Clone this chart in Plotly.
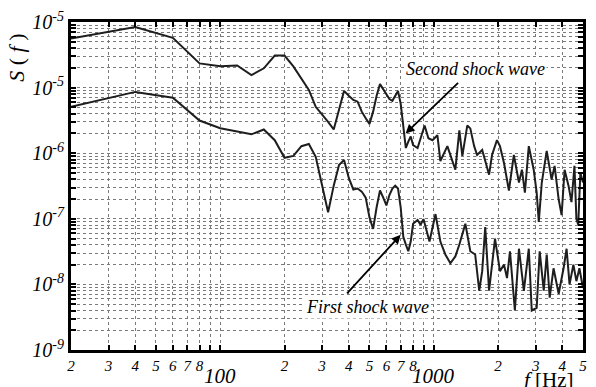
import math
import plotly.graph_objects as go

# ---- data (f in Hz, S(f)) ----
upper_f = [20, 40, 60, 80, 100, 120, 140, 160, 180, 200, 220, 240, 260, 280, 300, 320, 340, 360, 380, 400,
           420, 440, 460, 480, 500, 520, 540, 560, 580, 600, 620, 640, 660, 680, 700, 720, 740, 760, 780, 800,
           840, 906, 944, 986, 1040, 1074, 1158, 1262, 1318, 1361, 1436, 1483, 1546, 1596, 1686, 1816, 1875, 1977,
           2042, 2133, 2249, 2372, 2506, 2588, 2672, 2787, 2938, 3034, 3104, 3206, 3381, 3565, 3681, 3846, 3970,
           4100, 4276, 4416, 4560, 4656, 4750, 4860, 5000]
upper_S = [5.6e-5, 8.4e-5, 5.75e-5, 2.34e-5, 2.11e-5, 2.18e-5, 1.55e-5, 1.97e-5, 3.08e-5, 3.08e-5,
           2.11e-5, 1.39e-5, 9.2e-6, 5.1e-6, 3.9e-6, 3.0e-6, 2.3e-6, 4.8e-6, 8.9e-6, 7.5e-6,
           6.5e-6, 6.1e-6, 4.3e-6, 3.4e-6, 2.8e-6, 4.3e-6, 7.5e-6, 1.13e-5, 9.5e-6, 8.0e-6,
           6.7e-6, 6.3e-6, 7.5e-6, 8.9e-6, 5.7e-6, 2.65e-6, 1.2e-6, 1.5e-6, 1.8e-6, 1.33e-6,
           1.2e-6, 2.65e-6, 1.69e-6, 1.58e-6, 1.88e-6, 7.6e-7, 1.28e-6, 5.6e-7, 2.23e-6, 9.1e-7,
           2.65e-6, 2.39e-6, 1.28e-6, 9.4e-7, 1.12e-6, 4.7e-7, 9.4e-7, 1.58e-6, 1.28e-6, 7.1e-7,
           2.7e-7, 9.4e-7, 3.57e-7, 5.6e-7, 2.5e-7, 1.28e-6, 5.6e-7, 2.5e-7, 8.95e-8, 3.57e-7,
           1.08e-6, 3.96e-7, 6.4e-7, 1.98e-7, 1.14e-7, 5.6e-7, 3.2e-7, 1.8e-7, 6.4e-7, 9.9e-8,
           8.1e-8, 5.05e-7, 3.57e-7]

lower_f = [20, 40, 60, 80, 100, 120, 140, 160, 180, 200, 220, 240, 260, 280, 300, 320, 340, 360, 380, 400,
           420, 440, 460, 480, 500, 520, 540, 560, 580, 600, 620, 640, 660, 680, 700, 720, 740, 760, 780, 800,
           840, 867, 895, 955, 1019, 1074, 1133, 1196, 1262, 1318, 1406, 1483, 1563, 1633, 1686, 1742, 1816,
           1936, 2042, 2133, 2203, 2275, 2398, 2506, 2642, 2787, 2877, 3034, 3134, 3274, 3381, 3491, 3639,
           3846, 4055, 4188, 4325, 4508, 4656, 4810, 5000]
lower_S = [5.1e-6, 8.6e-6, 7.0e-6, 3.15e-6, 2.4e-6, 2.15e-6, 1.94e-6, 2.3e-6, 1.58e-6, 8.5e-7,
           9.1e-7, 1.28e-6, 1.38e-6, 8.8e-7, 3.3e-7, 1.26e-7, 3.2e-7, 6.6e-7, 7.9e-7, 4.2e-7,
           2.8e-7, 2.9e-7, 2.6e-7, 2.1e-7, 1.05e-7, 7.0e-8, 1.5e-7, 2.7e-7, 2.1e-7, 1.6e-7,
           2.3e-7, 2.9e-7, 3.2e-7, 2.9e-7, 1.5e-7, 5.3e-8, 4.05e-8, 3.2e-8, 4.5e-8, 8.4e-8,
           9.6e-8, 8.1e-8, 9.9e-8, 4.5e-8, 1.18e-7, 4.5e-8, 2.86e-8, 2.1e-8, 2.67e-8, 4.05e-8,
           8.4e-8, 3.2e-8, 2.86e-8, 8.0e-9, 1.59e-8, 7.5e-8, 8.0e-9, 5.0e-8, 1.59e-8, 2.0e-8,
           1.25e-8, 3.2e-8, 4.0e-9, 3.5e-8, 8.0e-9, 3.5e-8, 4.0e-9, 4.4e-9, 3.2e-8, 8.0e-9,
           2.86e-8, 6.3e-9, 1.76e-8, 7.2e-9, 1.76e-8, 3.5e-8, 1.0e-8, 2.0e-8, 1.12e-8, 1.76e-8,
           8.8e-9]

# tick labels
x_tickvals = [20, 30, 40, 50, 60, 70, 80, 90, 100, 200, 300, 400, 500, 600, 700, 800, 900, 1000,
              2000, 3000, 4000, 5000]
x_ticktext = ["2", "3", "4", "5", "6", "7", "8", "", "", "2", "3", "4", "5", "6", "7", "8", "", "",
              "2", "3", "4", "5"]
x_decade_vals = [100, 1000]
x_decade_text = ["100", "1000"]

y_decades = [1e-9, 1e-8, 1e-7, 1e-6, 1e-5, 1e-4]
y_decade_text = ["10<sup>-9</sup>", "10<sup>-8</sup>", "10<sup>-7</sup>", "10<sup>-6</sup>",
                 "10<sup>-5</sup>", "10<sup>-5</sup>"]

y_tickvals = []
y_ticktext = []
for i, d in enumerate(y_decades):
    y_tickvals.append(d)
    y_ticktext.append(y_decade_text[i])
    if i < len(y_decades) - 1:
        for m in range(2, 10):
            y_tickvals.append(m * d)
            y_ticktext.append("")

SERIF = "Times New Roman, Liberation Serif, serif"
line_col = "#1e1e1e"

fig = go.Figure()
fig.add_trace(go.Scatter(x=upper_f, y=upper_S, mode="lines",
                         line=dict(color=line_col, width=2), showlegend=False))
fig.add_trace(go.Scatter(x=lower_f, y=lower_S, mode="lines",
                         line=dict(color=line_col, width=2), showlegend=False))

grid_col = "#7a7a7a"
fig.update_xaxes(type="log", range=[math.log10(20), math.log10(5000)],
                 tickmode="array", tickvals=x_tickvals, ticktext=x_ticktext,
                 tickfont=dict(family=SERIF, size=15, color="black", style="italic"),
                 ticks="inside", ticklen=5, tickwidth=2, tickcolor="black",
                 showline=True, linecolor="black", linewidth=3, mirror="allticks",
                 showgrid=True, gridcolor=grid_col, gridwidth=1, griddash="dot",
                 zeroline=False)
fig.update_yaxes(type="log", range=[-9, -4],
                 tickmode="array", tickvals=y_tickvals, ticktext=y_ticktext,
                 tickfont=dict(family=SERIF, size=20, color="black", style="italic"),
                 ticks="inside", ticklen=5, tickwidth=2, tickcolor="black",
                 showline=True, linecolor="black", linewidth=3, mirror="allticks",
                 showgrid=True, gridcolor=grid_col, gridwidth=1, griddash="dot",
                 zeroline=False)

ann = []
for v, t in zip(x_decade_vals, x_decade_text):
    ann.append(dict(x=math.log10(v), xref="x", y=-0.078, yref="paper", text=t,
                    showarrow=False, xanchor="center", yanchor="middle",
                    font=dict(family=SERIF, size=21, color="black", style="italic")))
ann.append(dict(x=0.934, xref="paper", y=-0.09, yref="paper", text="<i>f</i> [Hz]",
                showarrow=False, xanchor="center", yanchor="middle",
                font=dict(family=SERIF, size=21, color="black")))
ann.append(dict(x=-0.108, xref="paper", y=0.89, yref="paper", text="<i>S</i> ( <i>f</i> )",
                showarrow=False, textangle=-90, xanchor="center", yanchor="middle",
                font=dict(family=SERIF, size=22, color="black")))

# shock wave labels and arrows
ann.append(dict(x=math.log10(1563), y=math.log10(1.9e-5), xref="x", yref="y",
                text="Second shock wave", showarrow=False, bgcolor="white",
                font=dict(family=SERIF, size=18, color="black", style="italic")))
ann.append(dict(x=math.log10(738), y=math.log10(2.0e-6), xref="x", yref="y",
                text="", showarrow=True, ax=54, ay=-52, arrowhead=2, arrowsize=1,
                arrowwidth=1.8, arrowcolor="black"))
ann.append(dict(x=math.log10(492), y=math.log10(4.6e-9), xref="x", yref="y",
                text="First shock wave", showarrow=False, bgcolor="white",
                font=dict(family=SERIF, size=18, color="black", style="italic")))
ann.append(dict(x=math.log10(700), y=math.log10(5.7e-8), xref="x", yref="y",
                text="", showarrow=True, ax=-55, ay=60, arrowhead=2, arrowsize=1,
                arrowwidth=1.8, arrowcolor="black"))

fig.update_layout(width=596, height=387,
                  margin=dict(l=71, r=9, t=16, b=37),
                  paper_bgcolor="white", plot_bgcolor="white",
                  font=dict(family=SERIF),
                  annotations=ann, showlegend=False)

fig.write_html("out.html")
